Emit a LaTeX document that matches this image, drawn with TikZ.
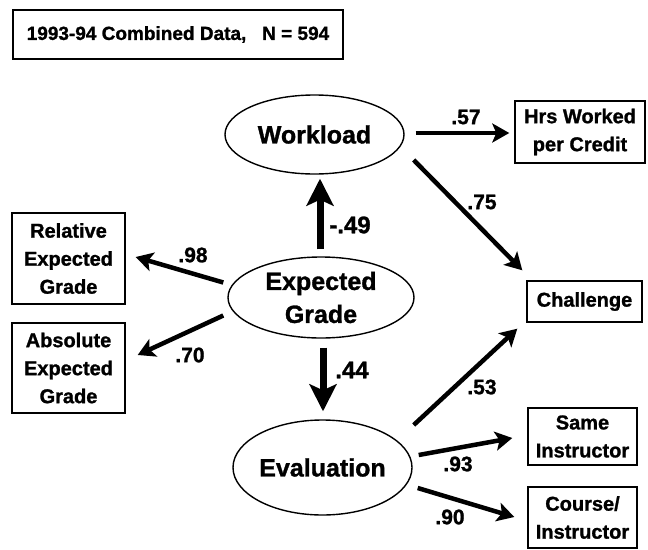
\documentclass[tikz,border=0pt]{standalone}
\usepackage{fontspec}
\setmainfont{Liberation Sans}[BoldFeatures={FakeBold=1.2}]
\usetikzlibrary{shapes.geometric,arrows.meta}

\tikzset{
  caja/.style={draw, line width=1.4pt, rectangle, align=center, inner sep=0pt,
    font=\fontsize{20}{28}\selectfont\bfseries},
  latente/.style={draw, line width=1.4pt, ellipse, align=center, inner sep=0pt,
    font=\fontsize{25}{33}\selectfont\bfseries},
  flecha/.style={-{Stealth[length=17pt,width=19pt,inset=4pt]}, line width=4.5pt},
  flechagorda/.style={-{Stealth[length=27pt,width=27pt,inset=6pt]}, line width=7pt},
  coef/.style={font=\fontsize{21}{24}\selectfont\bfseries},
  coefgrande/.style={font=\fontsize{24}{26}\selectfont\bfseries}
}

\begin{document}
\begin{tikzpicture}[x=1pt,y=-1pt]
    \useasboundingbox (0,0) rectangle (648,549);

    % Titulo
    \node[caja, font=\fontsize{19}{24}\selectfont\bfseries, minimum width=330pt, minimum height=49pt]
        (titulo) at (178,34.5) {1993-94 Combined Data,\ \ \ N = 594};

    % Variables latentes
    \node[latente, minimum width=179pt, minimum height=79pt] (wl) at (314.5,134.5) {Workload};
    \node[latente, minimum width=186pt, minimum height=81pt] (eg) at (321,297.5) {Expected\\Grade};
    \node[latente, minimum width=179pt, minimum height=95pt] (ev) at (322.5,467.5) {Evaluation};

    % Indicadores
    \node[caja, minimum width=130pt, minimum height=62pt] (hrs) at (580,132) {Hrs Worked\\per Credit};
    \node[caja, minimum width=113pt, minimum height=91pt] (rel) at (68.5,258.5) {Relative\\Expected\\Grade};
    \node[caja, minimum width=113pt, minimum height=90pt] (abs) at (68.5,368) {Absolute\\Expected\\Grade};
    \node[caja, minimum width=115pt, minimum height=41pt] (chal) at (584.5,301.5) {Challenge};
    \node[caja, minimum width=109pt, minimum height=57pt] (same) at (582.5,436.5) {Same\\Instructor};
    \node[caja, minimum width=109pt, minimum height=61pt] (course) at (582.5,517.5) {Course/\\Instructor};

    % Flechas
    \draw[flecha] ([shift={(11,-1.5)}]wl.east) -- ([shift={(-5,1)}]hrs.west);
    \draw[flecha] ([shift={(9,25.5)}]wl.east) -- ([shift={(-4,-10)}]chal.north west);
    \draw[flechagorda] ([shift={(-1,-7)}]eg.north) -- ([shift={(5.5,4)}]wl.south);
    \draw[flechagorda] ([shift={(2,9)}]eg.south) -- ([shift={(0.5,-8)}]ev.north);
    \draw[flecha] ([shift={(-4,-15)}]eg.west) -- ([shift={(10,-1.5)}]rel.east);
    \draw[flecha] ([shift={(-4,18)}]eg.west) -- ([shift={(12,-13)}]abs.east);
    \draw[flecha] ([shift={(1,-42.5)}]ev.east) -- ([shift={(-9,6)}]chal.south west);
    \draw[flecha] ([shift={(6,-12.5)}]ev.east) -- ([shift={(-15,1.5)}]same.west);
    \draw[flecha] ([shift={(5,20.5)}]ev.east) -- ([shift={(-13,-0.5)}]course.west);

    % Coeficientes
    \node[coef] (c57) at (466,117) {.57};
    \node[coef] (c75) at (482,202) {.75};
    \node[coefgrande] (c49) at (350,225) {-.49};
    \node[coefgrande] (c44) at (352,370) {.44};
    \node[coef] (c98) at (193,255) {.98};
    \node[coef] (c70) at (190,355) {.70};
    \node[coef] (c53) at (482,387) {.53};
    \node[coef] (c93) at (458,464) {.93};
    \node[coef] (c90) at (450,517) {.90};
\end{tikzpicture}
\end{document}
